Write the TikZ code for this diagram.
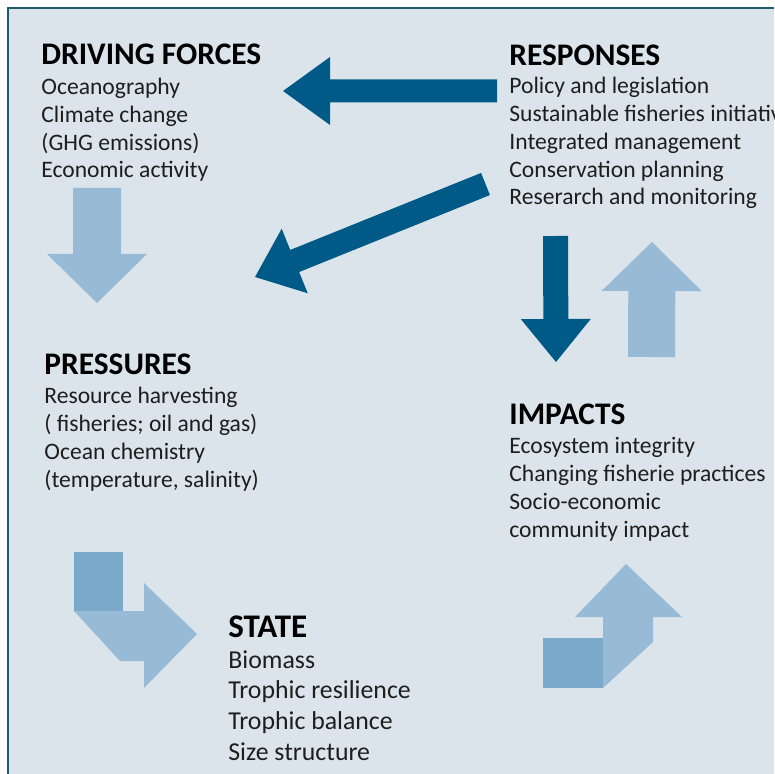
\documentclass[tikz,border=0pt]{standalone}
\usepackage{fontspec}
\setmainfont{Carlito}
\usetikzlibrary{calc}

\definecolor{bgblue}{HTML}{DBE4EA}
\definecolor{frameline}{HTML}{1F5B6B}
\definecolor{darkarrow}{HTML}{005A87}
\definecolor{lightarrow}{HTML}{97BAD6}
\definecolor{cornerbox}{HTML}{7AA9CA}
\definecolor{txt}{HTML}{1E1E1E}

\newcommand\blocktitle[1]{{\fontsize{15.7}{14}\selectfont\bfseries\color{black}#1}}
\newcommand\blockarrow[6]{%
  \coordinate (hb) at ($(#3)!#6!(#2)$);
  \fill[#1] ($(#2)!#4!90:(#3)$) -- ($(hb)!#4!90:(#3)$) -- ($(hb)!#5!90:(#3)$) -- (#3)
    -- ($(hb)!#5!-90:(#3)$) -- ($(hb)!#4!-90:(#3)$) -- ($(#2)!#4!-90:(#3)$) -- cycle;}

\begin{document}
\begin{tikzpicture}[
    x=0.5pt, y=-0.5pt,
    block/.style={anchor=base west, inner sep=0pt, align=left, text=txt, font=\fontsize{11.8}{13.9}\selectfont},
    bigblock/.style={block, font=\fontsize{12.9}{15.3}\selectfont},
    dark/.style={fill=darkarrow},
    light/.style={fill=lightarrow}
]
\useasboundingbox (0,0) rectangle (774,774);
\fill[bgblue] (8,8) rectangle (774,774);
\draw[frameline, line width=1pt] (8,774) -- (8,8) -- (774,8);

\node[block] (driving) at (41,178) {\blocktitle{DRIVING FORCES}\\[1pt]
  Oceanography\\ Climate change\\ (GHG emissions)\\ Economic activity};
\node[block] (responses) at (509,205) {\blocktitle{RESPONSES}\\
  Policy and legislation\\ Sustainable fisheries initiatives\\ Integrated management\\
  Conservation planning\\ Reserarch and monitoring};
\node[block] (pressures) at (44,487) {\blocktitle{PRESSURES}\\[0.5pt]
  Resource harvesting\\ ( fisheries; oil and gas)\\ Ocean chemistry\\ (temperature, salinity)};
\node[block] (impacts) at (509,537) {\blocktitle{IMPACTS}\\[0.5pt]
  Ecosystem integrity\\ Changing fisherie practices\\ Socio-economic\\ community impact};
\node[bigblock] (state) at (228,760) {{\fontsize{16.5}{15}\selectfont\bfseries\color{black}STATE}\\
  Biomass\\ Trophic resilience\\ Trophic balance\\ Size structure};

\coordinate (r1) at (497,91);
\coordinate (d1) at (283,91);
\coordinate (r2) at (485.5,184);
\coordinate (p1) at (255,277);
\coordinate (r3) at (555.5,236);
\coordinate (i1) at (556,362);
\coordinate (i2) at (651.5,357);
\coordinate (r4) at (652,242);
\coordinate (d2) at (97,188);
\coordinate (p2) at (97,303);

\blockarrow{dark}{r1}{d1}{5.75pt}{17pt}{23.5pt}
\blockarrow{dark}{r2}{p1}{5.95pt}{17.4pt}{21.4pt}
\blockarrow{dark}{r3}{i1}{6.25pt}{17.5pt}{21.5pt}
\blockarrow{light}{i2}{r4}{11.75pt}{25pt}{24.5pt}
\blockarrow{light}{d2}{p2}{12pt}{25pt}{24.5pt}

\fill[cornerbox] (74,552) rectangle (123,611);
\fill[light] (74,611) -- (144,611) -- (144,583) -- (197,634) -- (144,688)
  -- (144,661) -- (120,661) -- cycle;
\fill[cornerbox] (543,638) rectangle (603,688);
\fill[light] (603,638) -- (603,617) -- (575,617) -- (626,564) -- (682,617)
  -- (653,617) -- (653,642) -- (603,688) -- cycle;
\end{tikzpicture}
\end{document}
